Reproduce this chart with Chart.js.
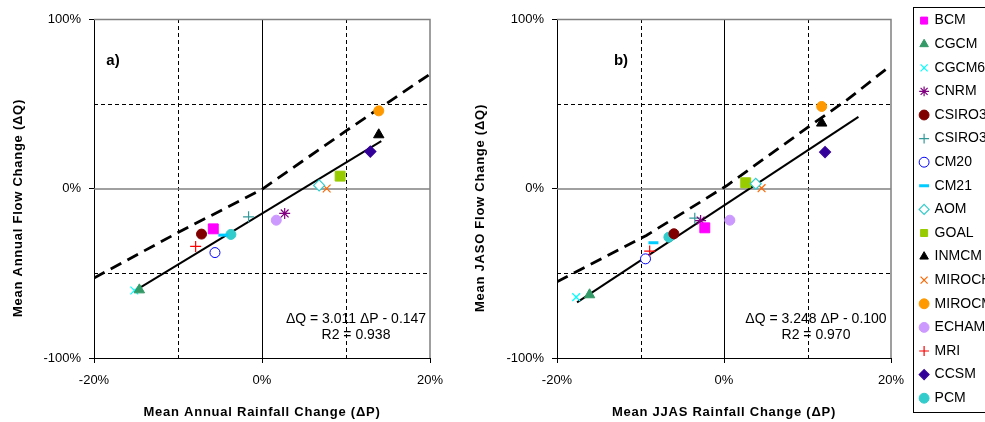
<!DOCTYPE html>
<html>
<head>
<meta charset="utf-8">
<script src="https://cdn.jsdelivr.net/npm/chart.js@4.4.1/dist/chart.umd.min.js"></script>
<style>
  body { margin: 0; background: #fff; width: 985px; height: 422px; overflow: hidden; position: relative; }
  canvas { position: absolute; top: 0; }
  #chartA { left: 0; }
  #chartB { left: 463px; }
  #legendBox { position: absolute; left: 913px; top: 7px; width: 100px; height: 404px; border: 1px solid #000; overflow: hidden; background: #fff; }
  #legendBox canvas { left: -3px; top: -4px; }
</style>
</head>
<body>
<canvas id="chartA" width="450" height="422"></canvas>
<canvas id="chartB" width="450" height="422"></canvas>
<div id="legendBox"><canvas id="legendCanvas" width="200" height="470"></canvas></div>
<script>
// Modelle und Werte (in %)
const models = ['BCM', 'CGCM', 'CGCM63', 'CNRM', 'CSIRO30', 'CSIRO35', 'CM20', 'CM21', 'AOM',
                'GOAL', 'INMCM', 'MIROCH', 'MIROCM', 'ECHAM', 'MRI', 'CCSM', 'PCM'];
const annualRainChange = [-5.8, -14.6, -15.2, 2.7, -7.2, -1.6, -5.6, -4.6, 6.8, 9.3, 13.9, 7.7, 13.9, 1.7, -7.9, 12.9, -3.7];
const annualFlowChange = [-23.8, -59.8, -60.2, -14.7, -26.9, -16.7, -37.8, -27.5, 1.8, 7.3, 31.7, 0.0, 45.8, -18.7, -34.2, 21.8, -27.1];
const jjasRainChange = [-2.3, -16.1, -17.7, -2.8, -6.0, -3.5, -9.4, -8.45, 3.8, 2.6, 11.7, 4.5, 11.7, 0.7, -8.9, 12.1, -6.6];
const jasoFlowChange = [-23.2, -62.7, -64.1, -18.9, -26.7, -17.5, -41.5, -32.0, 2.8, 3.4, 38.6, 0.2, 48.4, -18.7, -36.9, 21.5, -28.7];

// Regressionsgeraden (Endpunkte) und gestrichelte Kurven
const fitAnnualX = [-15.2, 14.2];
const fitAnnualY = [-60.5, 28.0];
const fitSeasonX = [-17.6, 16.1];
const fitSeasonY = [-67.2, 42.3];
const curveAnnualX = [-20, -10, 0, 10, 20];
const curveAnnualY = [-52.8, -26, -0.5, 34, 67.5];
const curveSeasonX = [-20, -9.3, 0.3, 9.9, 14.85, 20];
const curveSeasonY = [-55, -27.7, 1.6, 35.6, 52.7, 72.7];

const xTicks = [-20, 0, 20];
const yTicks = [-100, 0, 100];
const xGuides = [-10, 10];
const yGuides = [-50, 50];

// Markerstil je Modell
const markerStyles = ['rect', 'triangle', 'crossRot', 'star', 'circle', 'cross', 'circle', 'line', 'rectRot',
                      'rect', 'triangle', 'crossRot', 'circle', 'circle', 'cross', 'rectRot', 'circle'];
const markerColors = ['#FF00FF', '#339966', '#00FFFF', '#800080', '#800000', '#339999', '#0000FF', '#00CCFF', '#33CCCC',
                      '#99CC00', '#000000', '#FF6600', '#FF9900', '#CC99FF', '#FF0000', '#330099', '#33CCCC'];
const hollow = ['CM20', 'AOM'];
const radiusFor = { rect: 7, triangle: 6, crossRot: 5.5, star: 5.5, circle: 5, cross: 5.5, line: 5, rectRot: 5.5 };
const widthFor = { rect: 1, triangle: 1, crossRot: 1.2, star: 1.2, circle: 1, cross: 1.2, line: 3, rectRot: 1.2 };

const FONT = '"Liberation Sans", Arial, sans-serif';

function modelDataset(i, xs, ys) {
    const st = markerStyles[i];
    return {
        label: models[i],
        data: xs ? [{ x: xs[i], y: ys[i] }] : [],
        pointStyle: st,
        pointRadius: radiusFor[st],
        pointHoverRadius: radiusFor[st],
        pointBackgroundColor: hollow.includes(models[i]) ? '#FFFFFF' : markerColors[i],
        pointBorderColor: markerColors[i],
        pointBorderWidth: widthFor[st],
        backgroundColor: hollow.includes(models[i]) ? '#FFFFFF' : markerColors[i],
        borderColor: markerColors[i],
        borderWidth: widthFor[st],
        order: 1
    };
}

function lineDataset(xs, ys, dashed) {
    return {
        label: dashed ? 'curve' : 'fit',
        data: xs.map((x, i) => ({ x: x, y: ys[i] })),
        showLine: true,
        pointRadius: 0,
        borderColor: '#000',
        borderWidth: dashed ? 2.8 : 2,
        borderDash: dashed ? [12, 7] : [],
        order: 2
    };
}

// Hilfslinien und Rahmen
const guidePlugin = {
    id: 'guides',
    beforeDatasetsDraw(chart) {
        const { ctx, chartArea: a, scales: { x, y } } = chart;
        ctx.save();
        ctx.lineWidth = 1;
        ctx.strokeStyle = '#000';
        ctx.setLineDash([4, 3]);
        xGuides.forEach(v => {
            const px = Math.round(x.getPixelForValue(v)) + 0.5;
            ctx.beginPath(); ctx.moveTo(px, a.top); ctx.lineTo(px, a.bottom); ctx.stroke();
        });
        yGuides.forEach(v => {
            const py = Math.round(y.getPixelForValue(v)) + 0.5;
            ctx.beginPath(); ctx.moveTo(a.left, py); ctx.lineTo(a.right, py); ctx.stroke();
        });
        ctx.setLineDash([]);
        const x0 = Math.round(x.getPixelForValue(0)) + 0.5;
        ctx.beginPath(); ctx.moveTo(x0, a.top); ctx.lineTo(x0, a.bottom); ctx.stroke();
        const y0 = Math.round(y.getPixelForValue(0));
        ctx.strokeStyle = '#808080';
        ctx.lineWidth = 1.5;
        ctx.beginPath(); ctx.moveTo(a.left, y0); ctx.lineTo(a.right, y0); ctx.stroke();
        ctx.beginPath(); ctx.moveTo(a.left, a.top + 0.5); ctx.lineTo(a.right, a.top + 0.5); ctx.lineTo(a.right, a.bottom); ctx.stroke();
        ctx.restore();
    }
};

// Beschriftungen: Panel-Kennung, Gleichung, Achsentitel (leicht gesperrt wie im Original)
function notesPlugin(tag, tagX, eq, r2, eqX, xTitle, yTitle, yTitleX) {
    return {
        id: 'notes',
        afterDraw(chart) {
            const ctx = chart.ctx;
            const a = chart.chartArea;
            ctx.save();
            ctx.fillStyle = '#000';
            ctx.textBaseline = 'middle';
            ctx.textAlign = 'center';
            ctx.font = 'bold 15px ' + FONT;
            ctx.fillText(tag, tagX, 61);
            ctx.font = '14px ' + FONT;
            ctx.fillText(eq, eqX, 319);
            ctx.fillText(r2, eqX, 335);
            ctx.font = 'bold 13px ' + FONT;
            ctx.letterSpacing = '0.75px';
            ctx.fillText(xTitle, (a.left + a.right) / 2, 412);
            ctx.translate(yTitleX, 208);
            ctx.rotate(-Math.PI / 2);
            ctx.fillText(yTitle, 0, 0);
            ctx.restore();
        }
    };
}

function makePanel(canvasId, xs, ys, fitX, fitY, curveX, curveY, rightPad, notes) {
    const datasets = models.map((m, i) => modelDataset(i, xs, ys));
    datasets.push(lineDataset(fitX, fitY, false));
    datasets.push(lineDataset(curveX, curveY, true));
    return new Chart(document.getElementById(canvasId).getContext('2d'), {
        type: 'scatter',
        data: { datasets: datasets },
        options: {
            responsive: false,
            animation: false,
            devicePixelRatio: 1,
            layout: { padding: { left: 0, top: 19, right: rightPad, bottom: 0 } },
            plugins: { legend: { display: false }, tooltip: { enabled: false } },
            scales: {
                x: {
                    type: 'linear', min: -20, max: 20,
                    afterBuildTicks: s => { s.ticks = xTicks.map(v => ({ value: v })); },
                    afterFit: s => { s.height = 64; s.paddingLeft = 0; s.paddingRight = 0; },
                    grid: { drawOnChartArea: false, tickLength: 5, color: '#000' },
                    border: { color: '#000', width: 1 },
                    ticks: { padding: 10, color: '#000', font: { family: FONT, size: 13 }, callback: v => v + '%' }
                },
                y: {
                    type: 'linear', min: -100, max: 100,
                    afterBuildTicks: s => { s.ticks = yTicks.map(v => ({ value: v })); },
                    afterFit: s => { s.width = 94; s.paddingTop = 0; s.paddingBottom = 0; },
                    grid: { drawOnChartArea: false, tickLength: 5, color: '#000' },
                    border: { color: '#000', width: 1 },
                    ticks: { padding: 8, color: '#000', font: { family: FONT, size: 13 }, callback: v => v + '%' }
                }
            }
        },
        plugins: [guidePlugin, notes]
    });
}

makePanel('chartA', annualRainChange, annualFlowChange, fitAnnualX, fitAnnualY, curveAnnualX, curveAnnualY, 20,
    notesPlugin('a)', 113, 'ΔQ = 3.011 ΔP - 0.147', 'R2 = 0.938', 356,
        'Mean Annual Rainfall Change (ΔP)', 'Mean Annual Flow Change (ΔQ)', 18));

makePanel('chartB', jjasRainChange, jasoFlowChange, fitSeasonX, fitSeasonY, curveSeasonX, curveSeasonY, 22,
    notesPlugin('b)', 158, 'ΔQ = 3.248 ΔP - 0.100', 'R2 = 0.970', 353,
        'Mean JJAS Rainfall Change (ΔP)', 'Mean JASO Flow Change (ΔQ)', 17));

// Legende als eigenes Diagramm
new Chart(document.getElementById('legendCanvas').getContext('2d'), {
    type: 'scatter',
    data: { datasets: models.map((m, i) => modelDataset(i, null, null)) },
    options: {
        responsive: false,
        animation: false,
        devicePixelRatio: 1,
        layout: { padding: 0 },
        scales: { x: { display: false }, y: { display: false } },
        plugins: {
            tooltip: { enabled: false },
            legend: {
                position: 'left',
                align: 'start',
                labels: {
                    usePointStyle: true,
                    boxWidth: 7,
                    boxHeight: 7,
                    padding: 9.6,
                    color: '#000',
                    font: { family: FONT, size: 14 }
                }
            }
        }
    }
});
</script>
</body>
</html>
